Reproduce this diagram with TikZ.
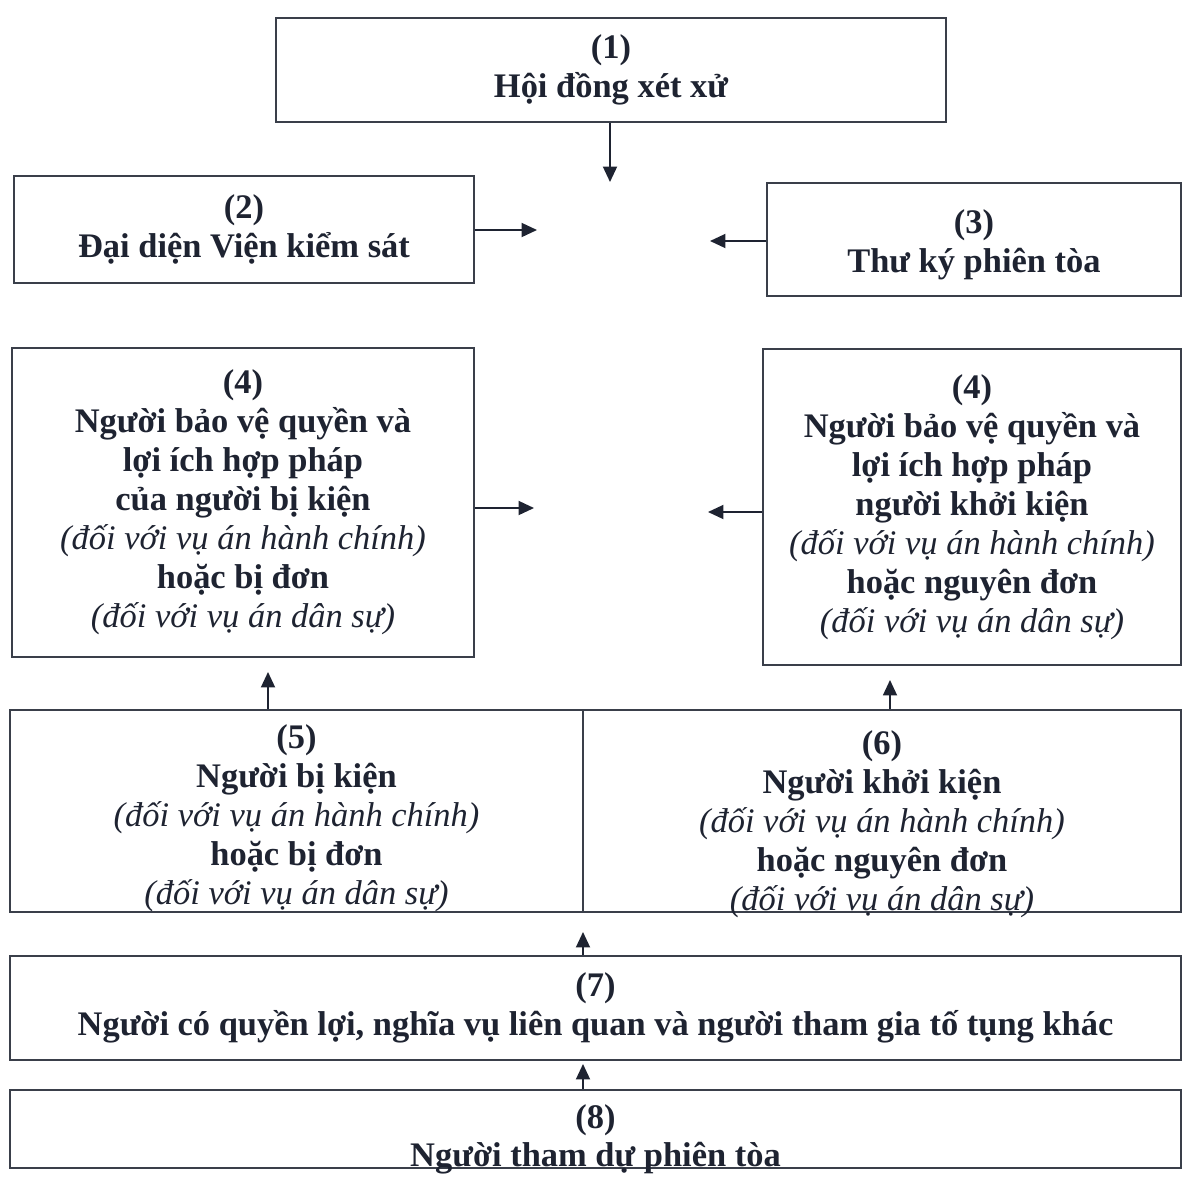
\documentclass[tikz,border=0pt]{standalone}
\usepackage{fontspec}
\setmainfont{Liberation Serif}
\usetikzlibrary{arrows.meta,positioning}
\definecolor{ink}{HTML}{1E2331}
\definecolor{rule}{HTML}{3A3F4A}
\tikzset{
  box/.style={rectangle,draw=rule,line width=1.5pt,align=center,text=ink,inner sep=0pt,
    font=\bfseries\fontsize{24.5}{27.7}\selectfont},
  link/.style={-{Triangle[length=11pt,width=10pt]},line width=1.2pt,draw=ink},
}
\newcommand{\casenote}[1]{{\mdseries\itshape #1}}

\begin{document}
\begin{tikzpicture}[x=0.025cm,y=-0.025cm]
  \useasboundingbox (0,0) rectangle (1184,1178);
  % top rows
  \node[box,minimum width=16.75cm,minimum height=2.6cm] (n1) at (611,70) {(1)\\Hội đồng xét xử};
  \node[box,minimum width=11.5cm,minimum height=2.675cm] (n2) at (244,229.5) {(2)\\Đại diện Viện kiểm sát};
  \node[box,minimum width=10.35cm,minimum height=2.825cm,text height=46.5pt,text depth=0pt] (n3) at (974,239.5) {(3)\\Thư ký phiên tòa};
  \node[box,minimum width=11.55cm,minimum height=7.725cm] (n4l) at (243,502.5) {(4)\\Người bảo vệ quyền và\\lợi ích hợp pháp\\của người bị kiện\\\casenote{(đối với vụ án hành chính)}\\hoặc bị đơn\\\casenote{(đối với vụ án dân sự)}};
  \node[box,minimum width=10.45cm,minimum height=7.9cm] (n4r) at (972,507) {(4)\\Người bảo vệ quyền và\\lợi ích hợp pháp\\người khởi kiện\\\casenote{(đối với vụ án hành chính)}\\hoặc nguyên đơn\\\casenote{(đối với vụ án dân sự)}};
  % parties (text sits a bit low in these boxes)
  \node[box,minimum width=14.325cm,minimum height=5.05cm,text height=132.7pt,text depth=0pt] (n5) at (296.5,811) {(5)\\Người bị kiện\\\casenote{(đối với vụ án hành chính)}\\hoặc bị đơn\\\casenote{(đối với vụ án dân sự)}};
  \node[box,minimum width=14.95cm,minimum height=5.05cm,text height=141.1pt,text depth=0pt] (n6) at (882,811) {(6)\\Người khởi kiện\\\casenote{(đối với vụ án hành chính)}\\hoặc nguyên đơn\\\casenote{(đối với vụ án dân sự)}};
  \node[box,minimum width=29.275cm,minimum height=2.6cm] (n7) at (595.5,1008) {(7)\\Người có quyền lợi, nghĩa vụ liên quan và người tham gia tố tụng khác};
  \node[box,minimum width=29.275cm,minimum height=1.95cm,text height=54pt,text depth=-10.3pt] (n8) at (595.5,1129) {(8)\\Người tham dự phiên tòa};
  % free arrow ends
  \coordinate (c1) at (610,182);
  \coordinate (c2) at (537,230);
  \coordinate (c3) at (710,241);
  \coordinate (c4l) at (534,508);
  \coordinate (c4r) at (708,512);
  \coordinate (u5) at (268,672);
  \coordinate (u6) at (890,680);
  \coordinate (u7) at (583,932);
  \coordinate (u8) at (583,1064);
  \draw[link] (n1.south -| c1) -- (c1);
  \draw[link] (n2.east |- c2) -- (c2);
  \draw[link] (n3.west |- c3) -- (c3);
  \draw[link] (n4l.east |- c4l) -- (c4l);
  \draw[link] (n4r.west |- c4r) -- (c4r);
  \draw[link] (n5.north -| u5) -- (u5);
  \draw[link] (n6.north -| u6) -- (u6);
  \draw[link] (n7.north -| u7) -- (u7);
  \draw[link] (n8.north -| u8) -- (u8);
\end{tikzpicture}
\end{document}
